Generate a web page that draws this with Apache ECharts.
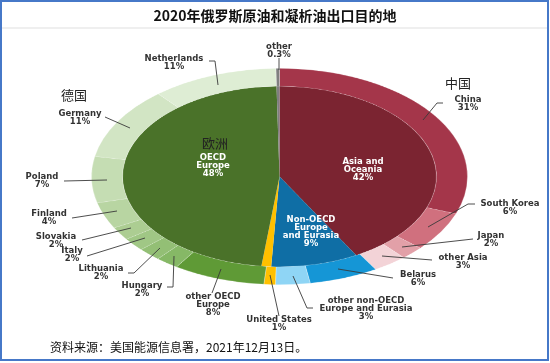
<!DOCTYPE html>
<html><head><meta charset="utf-8">
<script src="https://cdn.jsdelivr.net/npm/echarts/dist/echarts.min.js"></script>
<style>
html,body{margin:0;padding:0;background:#fff;}
#wrap{position:relative;width:550px;height:363px;overflow:hidden;background:#fff;}
#pie{position:absolute;left:0;top:0;width:550px;height:631px;transform:scaleY(0.575);transform-origin:0 0;}
#ann{position:absolute;left:0;top:0;width:550px;height:363px;}
</style></head><body>
<div id="wrap"><div id="pie"></div><div id="ann"></div></div>
<script>
// ---- data ----
const chartTitle = '2020年俄罗斯原油和凝析油出口目的地';
const sourceNote = '资料来源：美国能源信息署，2021年12月13日。';
const innerNames = ['Asia and Oceania', 'Non-OECD Europe and Eurasia', 'United States', 'OECD Europe', 'other'];
const innerValues = [42, 9, 1, 48, 0.3];
const outerNames = ['China', 'South Korea', 'Japan', 'other Asia', 'Belarus', 'other non-OECD Europe and Eurasia',
  'United States', 'other OECD Europe', 'Hungary', 'Lithuania', 'Italy', 'Slovakia', 'Finland', 'Poland',
  'Germany', 'Netherlands', 'other'];
const outerValues = [31, 6, 2, 3, 6, 3, 1, 8, 2, 2, 2, 2, 4, 7, 11, 11, 0.3];
const regionNotes = ['德国', '中国', '欧洲'];

// ---- styles ----
const innerColors = ['#7b2431', '#0f6ea5', '#ffc000', '#4a7229', '#7f7f7f'];
const outerColors = ['#a4364a', '#d0707e', '#e2a0a8', '#f3d3d7', '#1596d6', '#8fd5f5',
  '#ffc000', '#5f9a36', '#86b866', '#93bf75', '#a0c785', '#accd92', '#b8d5a2', '#c5ddb3',
  '#d2e5c4', '#deedd4', '#7f7f7f'];
const wrapNames = {
  'other OECD Europe': 'other OECD\nEurope',
  'other non-OECD Europe and Eurasia': 'other non-OECD\nEurope and Eurasia',
  'Asia and Oceania': 'Asia and\nOceania',
  'Non-OECD Europe and Eurasia': 'Non-OECD\nEurope\nand Eurasia',
  'OECD Europe': 'OECD\nEurope'
};
const SY = 0.575;            // vertical squash of the pie (perspective look)
const CX = 279.5, CY = 176.5; // pie centre on the page
const R_IN = 157, R_OUT = 188;

// label layout (page positions of text and leader lines)
const outerLabelLayout = {
  'Netherlands': {x: 174, y: 63, line: [[209, 61], [215, 61], [218, 85]]},
  'other': {x: 279, y: 51, line: [[279, 58], [279, 70]]},
  'Germany': {x: 80, y: 118, line: [[105, 117], [130, 128]]},
  'Poland': {x: 42, y: 181, line: [[64, 181], [107, 180]]},
  'Finland': {x: 49, y: 218, line: [[72, 218], [117, 211]]},
  'Slovakia': {x: 56, y: 241, line: [[82, 240], [131, 228]]},
  'Italy': {x: 72, y: 255, line: [[87, 256], [145, 238]]},
  'Lithuania': {x: 101, y: 273, line: [[128, 273], [134, 273], [160, 248]]},
  'Hungary': {x: 142, y: 290, line: [[167, 287], [173, 287], [174, 256]]},
  'other OECD Europe': {x: 213, y: 305, line: [[212, 293], [221, 269]]},
  'United States': {x: 279, y: 324, line: [[279, 316], [270, 275]]},
  'other non-OECD Europe and Eurasia': {x: 366, y: 309, line: [[313, 308], [307, 308], [293, 276]]},
  'Belarus': {x: 418, y: 279, line: [[393, 278], [338, 269]]},
  'other Asia': {x: 463, y: 262, line: [[432, 260], [382, 256]]},
  'Japan': {x: 491, y: 240, line: [[473, 239], [402, 247]]},
  'South Korea': {x: 510, y: 208, line: [[475, 204], [468, 204], [428, 227]]},
  'China': {x: 468, y: 104, line: [[443, 103], [437, 103], [423, 120]]}
};
const innerLabelLayout = {
  'OECD Europe': {x: 213, y: 166},
  'Asia and Oceania': {x: 363, y: 170},
  'Non-OECD Europe and Eurasia': {x: 311, y: 232}
};
const noteLayout = [{x: 74, y: 95}, {x: 458, y: 83}, {x: 215, y: 143}];

// ---- pie (squashed) ----
const pie = echarts.init(document.getElementById('pie'), null, {renderer: 'canvas'});
const sliceStyle = {borderColor: 'rgba(255,255,255,0.35)', borderWidth: 0.8};
pie.setOption({
  animation: false,
  series: [
    {
      type: 'pie', silent: true, startAngle: 90, clockwise: true,
      center: [CX, CY / SY], radius: [0, R_IN],
      label: {show: false}, labelLine: {show: false},
      itemStyle: {borderWidth: 0},
      data: innerNames.map((n, i) => ({name: n, value: innerValues[i], itemStyle: {color: innerColors[i]}}))
    },
    {
      type: 'pie', silent: true, startAngle: 90, clockwise: true,
      center: [CX, CY / SY], radius: [R_IN, R_OUT],
      label: {show: false}, labelLine: {show: false},
      itemStyle: sliceStyle,
      data: outerNames.map((n, i) => ({name: n, value: outerValues[i], itemStyle: {color: outerColors[i]}}))
    }
  ]
});

// ---- annotations (unsquashed) ----
const ann = echarts.init(document.getElementById('ann'), null, {renderer: 'canvas'});
const LBL_FONT = 'DejaVu Sans';
const g = [];
g.push({type: 'rect', shape: {x: 1, y: 1, width: 547, height: 359},
  style: {fill: null, stroke: '#4678c8', lineWidth: 2}, z: 10});
g.push({type: 'line', shape: {x1: 2, y1: 28, x2: 548, y2: 28},
  style: {stroke: '#efefef', lineWidth: 2}});
g.push({type: 'text', style: {text: chartTitle, x: 275, y: 16, align: 'center', verticalAlign: 'middle',
  fontSize: 14, fontWeight: 'bold', fontFamily: 'Noto Sans CJK SC', fill: '#111'}});
g.push({type: 'text', style: {text: sourceNote, x: 50, y: 347, align: 'left', verticalAlign: 'middle',
  fontSize: 12, fontFamily: 'Noto Sans CJK SC', fill: '#111'}});
function fmt(v) { return v + '%'; }
outerNames.forEach((n, i) => {
  const L = outerLabelLayout[n];
  if (!L) return;
  g.push({type: 'polyline', shape: {points: L.line}, style: {stroke: '#3a3a3a', lineWidth: 0.9, fill: null}});
  g.push({type: 'text', style: {text: (wrapNames[n] || n) + '\n' + fmt(outerValues[i]), x: L.x, y: L.y,
    align: 'center', verticalAlign: 'middle', fontSize: 8.5, lineHeight: 8, fontWeight: 'bold',
    fontFamily: LBL_FONT, fill: '#333'}});
});
innerNames.forEach((n, i) => {
  const L = innerLabelLayout[n];
  if (!L) return;
  g.push({type: 'text', style: {text: (wrapNames[n] || n) + '\n' + fmt(innerValues[i]), x: L.x, y: L.y,
    align: 'center', verticalAlign: 'middle', fontSize: 8.5, lineHeight: 8, fontWeight: 'bold',
    fontFamily: LBL_FONT, fill: '#ffffff'}});
});
regionNotes.forEach((t, i) => {
  const L = noteLayout[i];
  g.push({type: 'text', style: {text: t, x: L.x, y: L.y, align: 'center', verticalAlign: 'middle',
    fontSize: 13, fontFamily: 'Noto Sans CJK SC', fill: '#222'}});
});
ann.setOption({animation: false, graphic: g});
</script>
</body></html>
